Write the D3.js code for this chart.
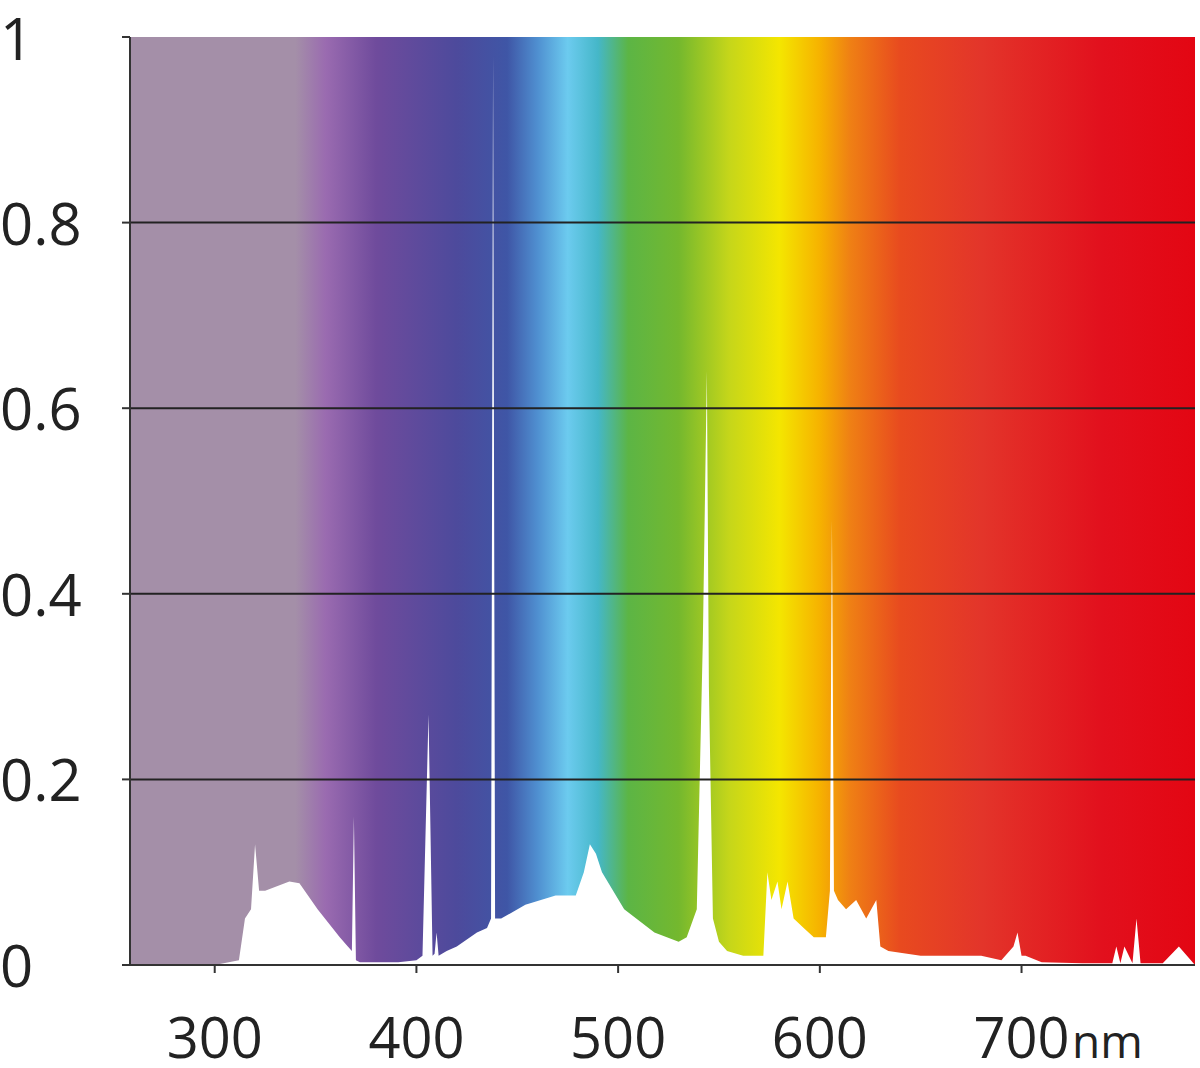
<!DOCTYPE html><html><head><meta charset="utf-8">
<script src="https://cdn.jsdelivr.net/npm/d3@7"></script>
<style>body{margin:0;background:#fff}</style></head><body>
<svg id="c" width="1200" height="1068"></svg>
<script>
const wavelength=[300,312,315,318,320,322,325,337,342,351,362,366,368,369,370,372,380,391,400,403,406,408,409,410,411,415,420,430,435,437,438,439,440,442,454,469,479,483,486,489,492,503,518,530,534,539,542,544,545,547,550,554,562,572,574,576,579,581,584,587,592,597,603,605,606,607,609,613,618,623,628,630,634,650,680,690,696,698,700,702,710,730,745,747,749,751,755,757,759,770,778,786];
const intensity=[0,0.005,0.05,0.06,0.13,0.08,0.08,0.09,0.088,0.06,0.03,0.02,0.015,0.16,0.005,0.003,0.003,0.003,0.005,0.01,0.27,0.01,0.012,0.035,0.01,0.015,0.02,0.035,0.04,0.05,0.98,0.05,0.05,0.05,0.065,0.075,0.075,0.1,0.13,0.12,0.1,0.06,0.035,0.025,0.03,0.06,0.35,0.64,0.3,0.05,0.025,0.015,0.01,0.01,0.1,0.07,0.09,0.06,0.09,0.05,0.04,0.03,0.03,0.08,0.48,0.08,0.07,0.06,0.07,0.05,0.07,0.02,0.015,0.01,0.01,0.005,0.02,0.035,0.01,0.01,0.003,0.002,0.002,0.02,0.002,0.02,0.002,0.05,0.002,0.002,0.02,0];
const yTicks=[0,0.2,0.4,0.6,0.8,1];
const yLabels=["0","0.2","0.4","0.6","0.8","1"];
const xTicks=[300,400,500,600,700];
const spectrumStops=[[258,"#a48fa8"],[340,"#a48fa8"],[355,"#9a6bb0"],[380,"#6f4b9c"],[420,"#4d4a9c"],[445,"#3f56a6"],[460,"#4f8fd0"],[475,"#6ccbef"],[490,"#45b7c8"],[505,"#5cb545"],[530,"#74b82e"],[555,"#c5d61a"],[580,"#f4e600"],[600,"#f6b200"],[615,"#ef8014"],[640,"#e84a1f"],[680,"#e3352a"],[740,"#e2101d"],[786,"#e30613"]];

const svg=d3.select("#c");
const L=130,R=1195,T=37,B=965;
const x=d3.scaleLinear().domain([258,786]).range([L,R]);
const y=d3.scaleLinear().domain([0,1]).range([B,T]);
const g=svg.append("defs").append("linearGradient").attr("id","sp").attr("gradientUnits","userSpaceOnUse")
 .attr("x1",L).attr("x2",R).attr("y1",0).attr("y2",0);
spectrumStops.forEach(s=>g.append("stop").attr("offset",(x(s[0])-L)/(R-L)).attr("stop-color",s[1]));
svg.append("rect").attr("x",L).attr("y",T).attr("width",R-L).attr("height",B-T).attr("fill","url(#sp)");
const data=wavelength.map((w,i)=>({w,v:intensity[i]}));
svg.append("path").datum(data).attr("fill","#fff")
 .attr("d",d3.area().x(d=>x(d.w)).y0(y(0)).y1(d=>y(d.v)));
svg.selectAll(".gl").data(yTicks.filter(t=>t>0&&t<1)).enter().append("line")
 .attr("x1",L).attr("x2",R).attr("y1",d=>y(d)).attr("y2",d=>y(d)).attr("stroke","#222").attr("stroke-width",2);
svg.append("line").attr("x1",L).attr("x2",L).attr("y1",T).attr("y2",B).attr("stroke","#333").attr("stroke-width",2);
svg.selectAll(".yt").data(yTicks).enter().append("line").attr("x1",L-8).attr("x2",L).attr("y1",d=>y(d)).attr("y2",d=>y(d)).attr("stroke","#333").attr("stroke-width",2);
svg.selectAll(".yl").data(yTicks).enter().append("text").attr("x",0).attr("y",d=>Math.max(y(d)+22,60))
 .text((d,i)=>yLabels[i]).attr("font-family","Open Sans, sans-serif").attr("font-size",58).attr("fill","#222");
svg.append("line").attr("x1",L).attr("x2",R).attr("y1",B).attr("y2",B).attr("stroke","#333").attr("stroke-width",2);
svg.selectAll(".xt").data(xTicks).enter().append("line").attr("x1",d=>x(d)).attr("x2",d=>x(d)).attr("y1",B).attr("y2",B+8).attr("stroke","#333").attr("stroke-width",2);
svg.selectAll(".xl").data(xTicks).enter().append("text").attr("x",d=>x(d)).attr("y",1058).attr("text-anchor","middle")
 .text(d=>d).attr("font-family","Open Sans, sans-serif").attr("font-size",56).attr("fill","#222");
svg.append("text").attr("x",1072).attr("y",1058).text("nm").attr("font-family","Open Sans, sans-serif").attr("font-size",46).attr("fill","#222");
</script></body></html>
